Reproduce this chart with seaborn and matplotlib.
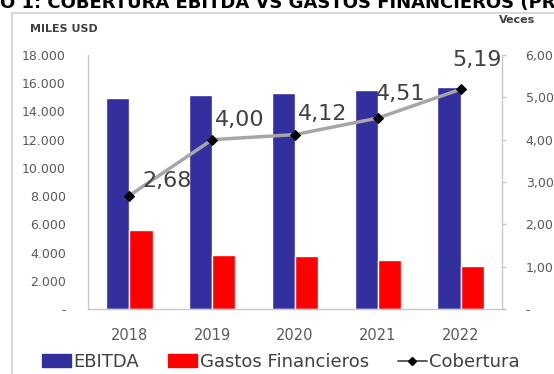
import matplotlib
matplotlib.use('Agg')
import matplotlib.pyplot as plt
import seaborn as sns
import pandas as pd
import numpy as np
from matplotlib.lines import Line2D
from matplotlib.patches import Patch, Rectangle

# ---- data ----
years = ['2018', '2019', '2020', '2021', '2022']
ebitda = [14950, 15160, 15330, 15520, 15750]
gastos = [5600, 3830, 3760, 3470, 3050]
cobertura = [2.68, 4.00, 4.12, 4.51, 5.19]
left_ticks = [0, 2000, 4000, 6000, 8000, 10000, 12000, 14000, 16000, 18000]
left_labels = ['-', '2.000', '4.000', '6.000', '8.000', '10.000', '12.000', '14.000', '16.000', '18.000']
right_ticks = [0, 1, 2, 3, 4, 5, 6]
right_labels = ['-', '1,00', '2,00', '3,00', '4,00', '5,00', '6,00']
title_text = 'O 1: COBERTURA EBITDA VS GASTOS FINANCIEROS (PROY'

# label offsets (pixels) for line data labels
label_offsets = [(38, 9), (28, 14), (28, 15), (23, 18), (16, 23)]

BLUE = '#332f9e'
RED = '#ff0000'
GRAY_LINE = '#a6a6a6'
TXT = '#595959'

sns.set_theme(style='white')
plt.rcParams['font.family'] = ['DejaVu Sans']

W, H = 554, 374
fig = plt.figure(figsize=(W / 100, H / 100), dpi=100)
ax = fig.add_axes([88 / W, 1 - 309 / H, 414 / W, 254 / H])

df = pd.DataFrame({
    'Año': years * 2,
    'Serie': ['EBITDA'] * len(years) + ['Gastos Financieros'] * len(years),
    'Valor': ebitda + gastos,
})
sns.barplot(data=df, x='Año', y='Valor', hue='Serie', palette=[BLUE, RED],
            width=0.56, gap=0, saturation=1, ax=ax, legend=False)
ax.set_xlim(-0.5, len(years) - 0.5)
ax.set_ylim(0, 18000)
ax.set_yticks(left_ticks)
ax.set_yticklabels(left_labels)
ax.set_xlabel('')
ax.set_ylabel('')
ax.tick_params(axis='y', length=0, pad=16, labelsize=9, labelcolor=TXT)
ax.tick_params(axis='x', length=0, pad=14, labelsize=10.5, labelcolor=TXT)
for s in ['left', 'bottom', 'right']:
    ax.spines[s].set_color('#c8c8c8')
    ax.spines[s].set_linewidth(1)
ax.spines['top'].set_visible(False)

ax2 = ax.twinx()
xs = np.arange(len(years))
sns.lineplot(x=xs, y=cobertura, ax=ax2, color=GRAY_LINE, lw=2.5,
             marker='D', markersize=5, markerfacecolor='black',
             markeredgecolor='black', legend=False)
ax2.set_ylim(0, 6)
ax2.set_yticks(right_ticks)
ax2.set_yticklabels(right_labels)
ax2.tick_params(axis='y', length=3, width=1, color='#c8c8c8', pad=14,
                labelsize=9, labelcolor=TXT)
for s in ['left', 'bottom', 'right', 'top']:
    ax2.spines[s].set_visible(False)
ax2.grid(False)
ax.grid(False)

for i, v in enumerate(cobertura):
    dx, dy = label_offsets[i]
    ax2.annotate(f'{v:.2f}'.replace('.', ','), (xs[i], v),
                 xytext=(dx, dy), textcoords='offset pixels',
                 ha='center', va='baseline', fontsize=16, color='#404040')

# axis titles
fig.text(30 / W, 1 - 29 / H, 'MILES USD', fontsize=8, weight='bold',
         color='#404040', va='center', ha='left')
fig.text(517 / W, 1 - 20 / H, 'Veces', fontsize=8, weight='bold',
         color='#404040', va='center', ha='center')

# outer frame and cut-off title
fig.patches.append(Rectangle((12 / W, -0.1), 1.2, (H - 13) / H + 0.1,
                             transform=fig.transFigure, fill=False,
                             edgecolor='#d9d9d9', lw=1.5))
fig.text(0, 1 - 8 / H, title_text, fontsize=13, weight='bold', color='black',
         va='baseline', ha='left')

handles = [
    Patch(facecolor=BLUE, edgecolor=BLUE, label='EBITDA'),
    Patch(facecolor=RED, edgecolor=RED, label='Gastos Financieros'),
    Line2D([0], [0], color='#404040', lw=1.2, marker='D', markersize=4,
           markerfacecolor='black', markeredgecolor='black', label='Cobertura'),
]
fig.legend(handles=handles, loc='center', bbox_to_anchor=(281 / W, 1 - 362 / H),
           ncol=3, frameon=False, fontsize=13, handlelength=1.6,
           handleheight=0.7, handletextpad=0.15, columnspacing=1.6,
           labelcolor='#404040')

fig.savefig('out.png', dpi=100)
